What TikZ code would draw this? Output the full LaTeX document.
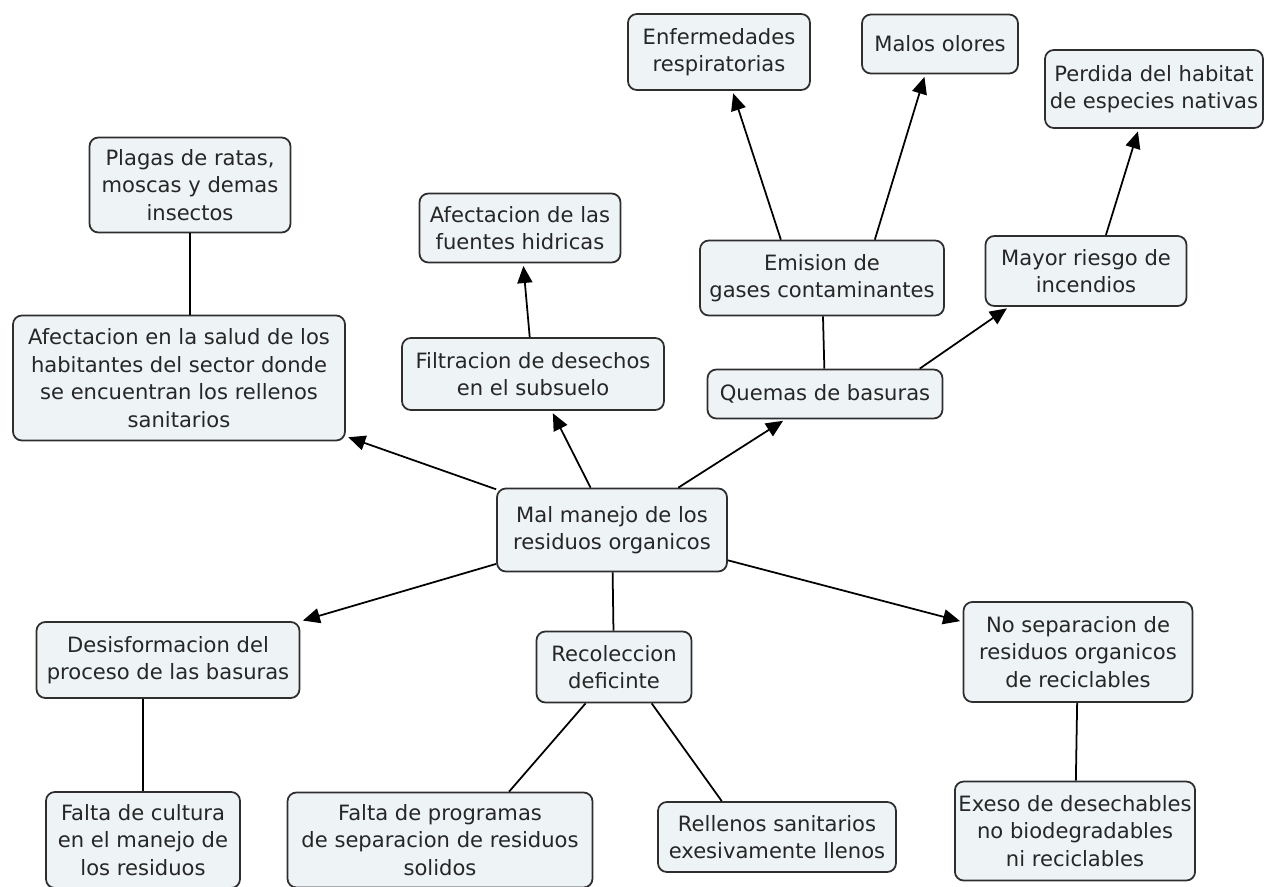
\documentclass[tikz,border=0pt]{standalone}
\usepackage{fontspec}
\setmainfont{DejaVu Sans}
\definecolor{boxfill}{HTML}{EEF3F6}
\definecolor{edge}{HTML}{2E2E2E}
\definecolor{ink}{HTML}{262626}
\usetikzlibrary{arrows.meta}
\tikzset{
  box/.style={draw=edge, fill=boxfill, rounded corners=5pt, align=center, text=ink,
              font=\fontsize{12}{15.7}\selectfont, line width=1pt, inner sep=2pt},
  flow/.style={-{Triangle[length=3.4mm,width=3mm]}, line width=1pt, color=black, shorten >=1.5pt},
  link/.style={line width=1pt, color=black},
}
\begin{document}
\begin{tikzpicture}[x=0.02cm,y=-0.02cm]
\useasboundingbox (0,0) rectangle (1264,886);
% centro
\node[box,minimum width=4.6cm,minimum height=1.66cm] (mal) at (612,530) {Mal manejo de los\\residuos organicos};
% efectos
\node[box,minimum width=6.64cm,minimum height=2.5cm] (salud) at (179,378) {Afectacion en la salud de los\\habitantes del sector donde\\se encuentran los rellenos\\sanitarios};
\node[box,minimum width=4.02cm,minimum height=1.9cm] (plagas) at (190,185) {Plagas de ratas,\\moscas y demas\\insectos};
\node[box,minimum width=5.24cm,minimum height=1.44cm] (filtra) at (533,374) {Filtracion de desechos\\en el subsuelo};
\node[box,minimum width=4.02cm,minimum height=1.38cm] (hidricas) at (520,228) {Afectacion de las\\fuentes hidricas};
\node[box,minimum width=4.7cm,minimum height=0.98cm] (quemas) at (825,394) {Quemas de basuras};
\node[box,minimum width=4.88cm,minimum height=1.5cm] (gases) at (822,278) {Emision de\\gases contaminantes};
\node[box,minimum width=3.64cm,minimum height=1.52cm] (respira) at (719,52) {Enfermedades\\respiratorias};
\node[box,minimum width=3.12cm,minimum height=1.18cm] (olores) at (940,44) {Malos olores};
\node[box,minimum width=4.02cm,minimum height=1.4cm] (incendio) at (1086,271) {Mayor riesgo de\\incendios};
\node[box,minimum width=4.36cm,minimum height=1.56cm] (habitat) at (1154,89) {Perdida del habitat\\de especies nativas};
% causas
\node[box,minimum width=5.26cm,minimum height=1.52cm] (desinfo) at (168,660) {Desisformacion del\\proceso de las basuras};
\node[box,minimum width=3.88cm,minimum height=1.92cm] (cultura) at (143,840) {Falta de cultura\\en el manejo de\\los residuos};
\node[box,minimum width=3.1cm,minimum height=1.42cm] (recolec) at (614,667) {Recoleccion\\deficinte};
\node[box,minimum width=6.1cm,minimum height=1.9cm] (programas) at (440,840) {Falta de programas\\de separacion de residuos\\solidos};
\node[box,minimum width=4.76cm,minimum height=1.4cm] (rellenos) at (777,837) {Rellenos sanitarios\\exesivamente llenos};
\node[box,minimum width=4.58cm,minimum height=2cm] (separa) at (1078,652) {No separacion de\\residuos organicos\\de reciclables};
\node[box,minimum width=4.68cm,minimum height=1.98cm] (desecha) at (1075,831) {Exeso de desechables\\no biodegradables\\ni reciclables};
% conexiones
\draw[flow] (mal)--(salud);
\draw[flow] (mal)--(filtra);
\draw[flow] (mal)--(quemas);
\draw[flow] (mal)--(desinfo);
\draw[flow] (mal)--(separa);
\draw[link] (mal)--(recolec);
\draw[link] (plagas.south)--(plagas.south |- salud.north);
\draw[flow] (filtra)--(hidricas);
\draw[link] (quemas)--(gases);
\draw[flow] (gases.137)--(respira.289);
\draw[flow] (gases.36)--(olores.244);
\draw[flow] (quemas.15)--(incendio.205);
\draw[flow] (incendio.61)--(habitat.249);
\draw[link] (cultura.north)--(cultura.north |- desinfo.south);
\draw[link] (recolec.232)--(programas.35);
\draw[link] (recolec.316)--(rellenos.147);
\draw[link] (separa)--(desecha);
\end{tikzpicture}
\end{document}
